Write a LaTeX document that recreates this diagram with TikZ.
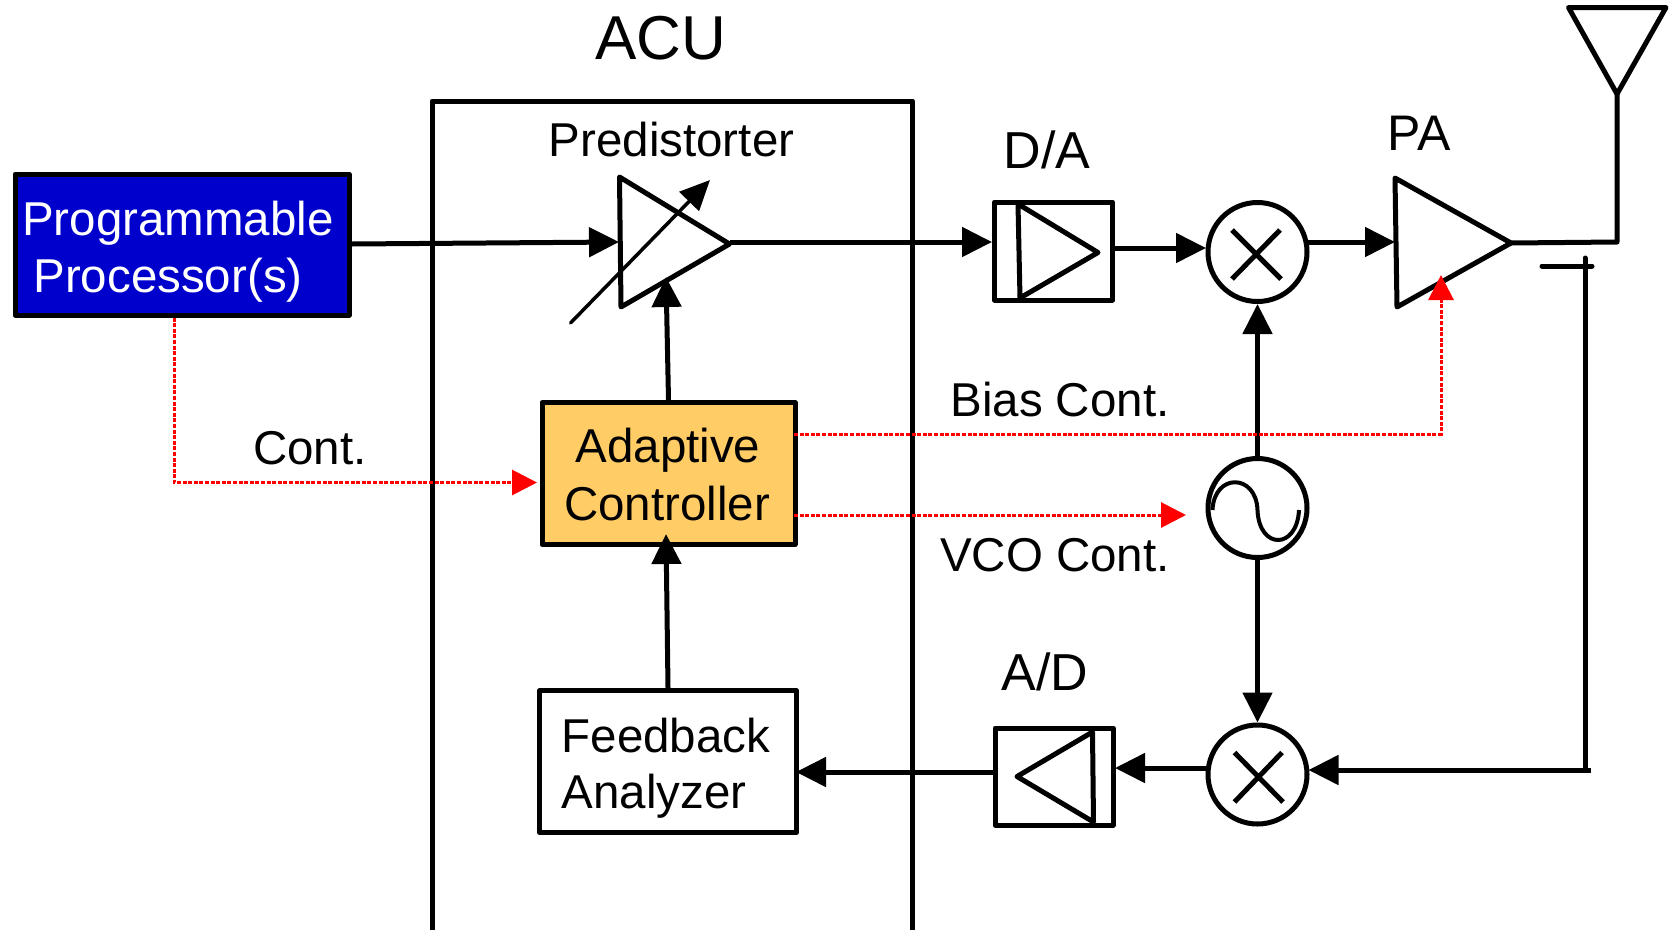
\documentclass[tikz,border=0pt]{standalone}
\usepackage{fontspec}
\setmainfont{Liberation Sans}
\usetikzlibrary{arrows.meta}
\definecolor{procblue}{HTML}{0000CC}
\definecolor{ctrlamber}{HTML}{FFCC66}
\tikzset{
  wire/.style={line width=5pt,line join=round},
  thinwire/.style={line width=4pt,line join=round},
  sig/.style={wire,-{Triangle[length=30pt,width=29pt]}},
  ctl/.style={red,line width=3pt,dash pattern=on 4pt off 1.6pt,-{Triangle[length=25pt,width=25pt]}},
  blockbox/.style={draw,line width=5pt,rectangle,inner sep=0pt,line join=round},
  ring/.style={draw,line width=5pt,circle,inner sep=0pt,minimum size=99pt},
  txt/.style={anchor=base,inner sep=0pt,font=\fontsize{47.5}{50}\selectfont},
  bigtxt/.style={anchor=base,inner sep=0pt,font=\fontsize{52}{54}\selectfont}
}
\begin{document}
\begin{tikzpicture}[x=1pt,y=-1pt]
\useasboundingbox (0,0) rectangle (1674,930);
% ACU frame (open at the bottom edge)
\draw[wire] (432,930) -- (432,101) -- (912.5,101) -- (912.5,930);
% boxes
\node[blockbox,fill=procblue,minimum width=334pt,minimum height=141pt] (proc) at (182,244.5) {};
\node[blockbox,fill=ctrlamber,minimum width=253pt,minimum height=142pt] (ctrl) at (668.5,473.5) {};
\node[blockbox,fill=white,minimum width=257pt,minimum height=142pt] (fb) at (668,761.5) {};
\node[blockbox,minimum width=118pt,minimum height=98pt] (da) at (1053.5,251) {};
\node[blockbox,minimum width=118pt,minimum height=97pt] (ad) at (1054,776.5) {};
\node[ring] (mixa) at (1257.5,252) {};
\node[ring] (vco) at (1257.5,508) {};
\node[ring] (mixb) at (1257.5,774.5) {};
% inner triangles
\coordinate (pdtop) at (619.5,177);
\coordinate (pdtip) at (729.5,244);
\coordinate (pdbot) at (621,307);
\coordinate (patop) at (1395,178);
\coordinate (patip) at (1511,243);
\coordinate (pabot) at (1397,307);
\draw[wire] (pdtop) -- (pdtip) -- (pdbot) -- cycle;
\draw[wire] (patop) -- (patip) -- (pabot) -- cycle;
\draw[wire] (1018,204) -- (1098,252.5) -- (1020,298) -- cycle;
\draw[wire] (1092.5,732) -- (1017,776.5) -- (1093.5,822) -- cycle;
% gain arrow of the predistorter
\coordinate (gainS) at (570.5,323);
\coordinate (gainE) at (710,180);
\draw[line width=3.5pt,line cap=round,-{Triangle[length=30pt,width=27pt]}] (gainS) -- (gainE);
% mixer crosses
\draw[wire] (1232,230) -- (1281,279) (1280,230) -- (1232,279);
\draw[wire] (1234.5,752.5) -- (1283,802) (1282,752.5) -- (1234.5,802);
% oscillator wave
\draw[thinwire] (1212.5,510) .. controls (1214,473) and (1256,473) .. (1257.5,510)
  .. controls (1259,550) and (1297,550) .. (1299,510);
% antenna
\coordinate (antL) at (1568.5,7.5);
\coordinate (antR) at (1666,7.5);
\coordinate (antB) at (1617,94);
\draw[wire] (antL) -- (antR) -- (antB) -- cycle;
\coordinate (corner) at (1617,242);
\draw[wire] (patip) -- (corner) -- (antB);
% coupler
\coordinate (cplL) at (1542,266);
\coordinate (cplR) at (1592,266);
\coordinate (cplT) at (1585,258);
\coordinate (cplB) at (1585,770);
\coordinate (cplE) at (1591,770);
\draw[wire,line cap=round] (cplL) -- (cplR);
\draw[wire,line cap=round] (cplT) -- (cplB);
% signal connectors
\draw[sig] (proc.east |- pdtip) -- (619,242);
\draw[sig] (pdtip) ++(0,-2) -- (992,242);
\draw[wire] (da.east |- 0,248) -- (1178,248);
\draw[sig] (1115,248) -- (1206,248);
\draw[sig] (1306,242) -- (1395,242);
\draw[sig] (ctrl.north) -- (666,277);
\draw[sig] (fb.north) -- (666,534);
\draw[sig] (vco.north) -- (mixa.south);
\draw[sig] (vco.south) -- (mixb.north);
\draw[sig] (cplE) -- (1308.5,770);
\draw[sig] (1208,768) -- (1115,768);
\draw[sig] (993,772) -- (796,772);
% control connectors
\coordinate (biasK) at (1441,434);
\draw[ctl] (proc.south -| 174,0) -- (174,482.5) -- (537,482.5);
\draw[ctl] (794,434) -- (biasK) -- (1441,275);
\draw[ctl] (794,515) -- (1186,515);
% labels
\node[anchor=base,inner sep=0pt,font=\fontsize{62}{64}\selectfont] (lacu) at (661,59) {ACU};
\node[txt] (lpd) at (671.5,156) {Predistorter};
\node[bigtxt] (lda) at (1047,168) {D/A};
\node[bigtxt,font=\fontsize{50}{52}\selectfont] (lpa) at (1419,150.5) {PA};
\node[bigtxt] (lad) at (1045,690.5) {A/D};
\node[txt,text=white] (lproca) at (178,235) {Programmable};
\node[txt,text=white] (lprocb) at (168,292) {Processor(s)};
\node[txt] (lctrla) at (668,462) {Adaptive};
\node[txt] (lctrlb) at (667,520) {Controller};
\node[txt] (lfba) at (666,752.5) {Feedback};
\node[txt] (lfbb) at (654,808) {Analyzer};
\node[txt] (lcont) at (310,464) {Cont.};
\node[txt] (lbias) at (1060,416) {Bias Cont.};
\node[txt] (lvco) at (1055,571) {VCO Cont.};
\end{tikzpicture}
\end{document}
